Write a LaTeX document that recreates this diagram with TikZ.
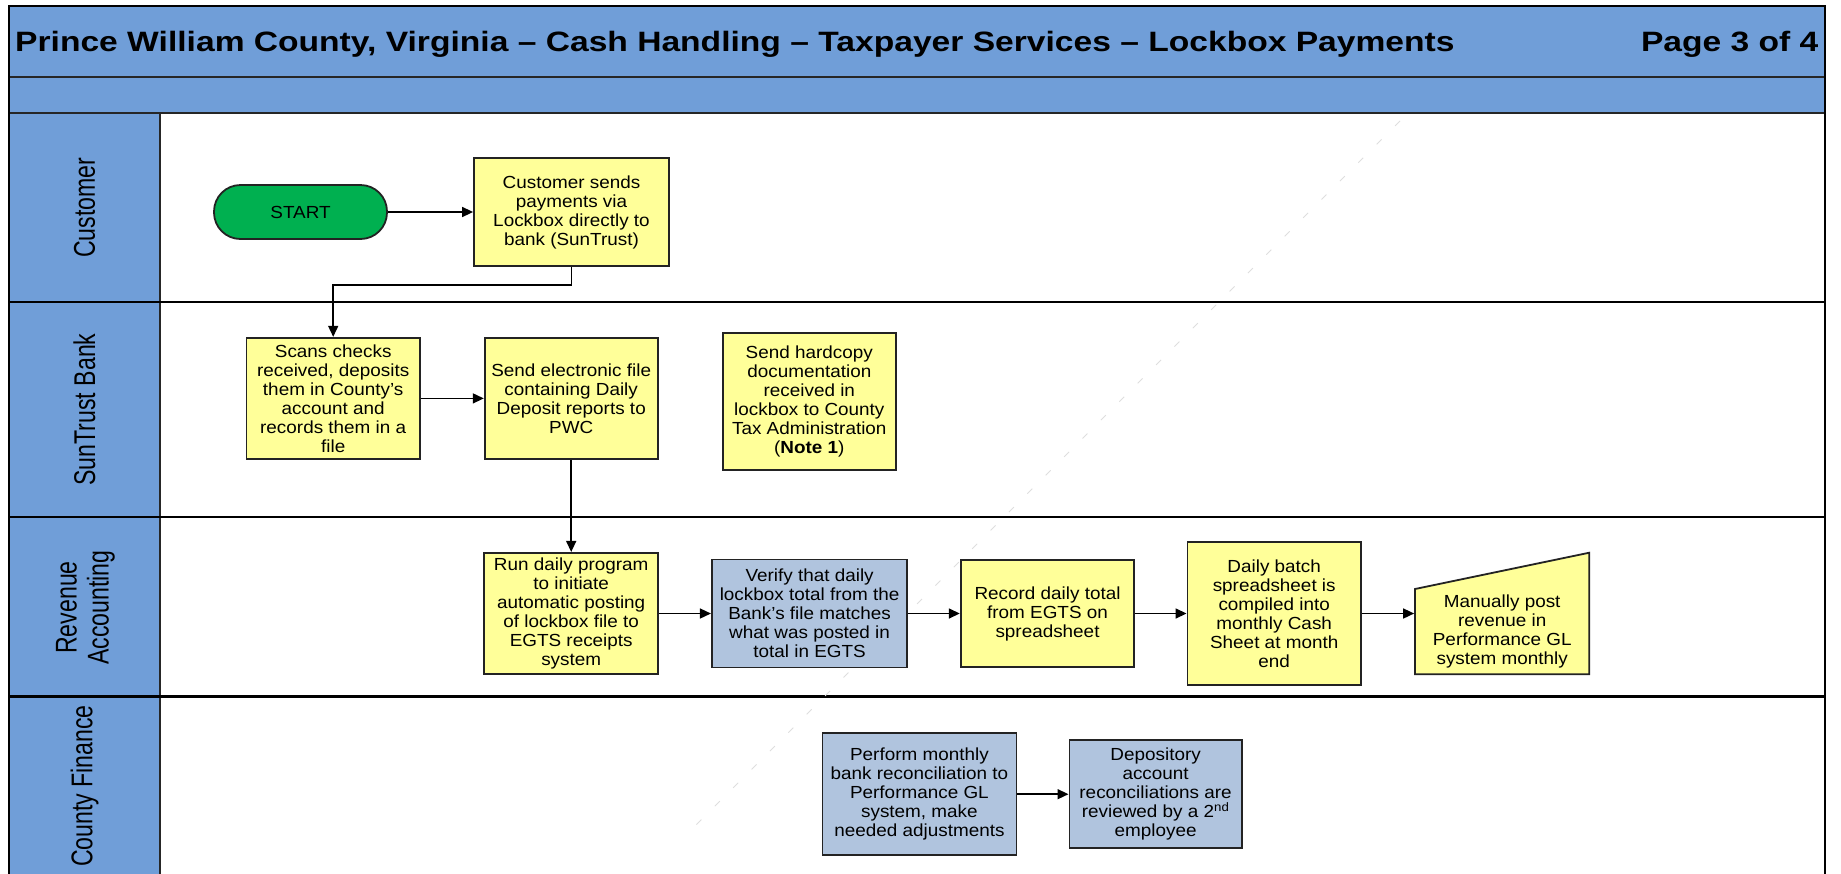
\documentclass[tikz,border=0pt]{standalone}
\usepackage{fontspec}
\setmainfont{Liberation Sans}
\newfontfamily\titlefont[FakeStretch=1.2]{Liberation Sans}
\newfontfamily\boxfont[FakeStretch=1.08]{Liberation Sans}
\newfontfamily\lanefont[FakeStretch=0.77]{Liberation Sans}
\usetikzlibrary{arrows.meta,calc}
\definecolor{hdr}{RGB}{112,158,216}
\definecolor{yel}{RGB}{255,255,153}
\definecolor{bgray}{RGB}{176,196,222}
\definecolor{grn}{RGB}{0,176,80}
\definecolor{edge}{RGB}{35,35,35}
\begin{document}
\begin{tikzpicture}[x=1pt,y=-1pt,
  frameline/.style={line width=2.4pt, draw=black},
  sepline/.style={line width=2pt, draw=black!85},
  boxbase/.style={draw=edge, line width=1.8pt, align=center, inner sep=0pt,
    font=\boxfont\fontsize{17.5}{19}\selectfont},
  ybox/.style={boxbase, fill=yel},
  gbox/.style={boxbase, fill=bgray},
  sz/.style 2 args={minimum width=#1pt, minimum height=#2pt},
  arr/.style={line width=1.5pt, draw=black, -{Triangle[length=11pt,width=10pt]}},
  lanelabel/.style={rotate=90, inner sep=0pt, align=center,
    font=\lanefont\fontsize{30}{32}\selectfont},
  wm/.style={draw=black!13, line width=0.8pt, dash pattern=on 7pt off 19pt},
]
\useasboundingbox (0,0) rectangle (1841,873);
\clip (0,0) rectangle (1841,873);
\fill[white] (0,0) rectangle (1841,873);
% header bands and lane label column
\fill[hdr] (9,6) rectangle (1825,113);
\fill[hdr] (9,113) rectangle (160,890);
% separators
\draw[sepline] (9,77) -- (1825,77);
\draw[sepline] (9,113) -- (1825,113);
\draw[sepline] (160,113) -- (160,890);
\draw[frameline] (9,302) -- (1825,302);
\draw[frameline] (9,517) -- (1825,517);
\draw[frameline] (9,696.5) -- (1825,696.5);
\draw[frameline] (9,6) rectangle (1825,890);
% faint watermark line
\draw[wm] (1400,121) -- (686,835);
% title
\node[anchor=base west, inner sep=0pt, font=\titlefont\bfseries\fontsize{28}{30}\selectfont] (title) at (15,51.7)
  {Prince William County, Virginia – Cash Handling – Taxpayer Services – Lockbox Payments};
\node[anchor=base east, inner sep=0pt, font=\titlefont\bfseries\fontsize{28}{30}\selectfont] (page) at (1818.6,51.7)
  {Page 3 of 4};
% lane labels
\node[lanelabel] (lcust) at (84.5,207.8) {Customer};
\node[lanelabel] (lbank) at (84.5,409.5) {SunTrust Bank};
\node[lanelabel] (lrev) at (85.5,607.5) {Revenue\\Accounting};
\node[lanelabel] (lfin) at (84.5,786) {County Finance};
% Customer lane
\node[boxbase, fill=grn, rounded corners=26.5pt, sz={173}{54}] (start) at (300.5,212) {START};
\node[ybox, sz={195}{108}] (cust) at (571.5,212)
  {Customer sends\\payments via\\Lockbox directly to\\bank (SunTrust)};
% SunTrust lane
\node[ybox, sz={173.6}{121.3}] (scan) at (333.2,398.4)
  {Scans checks\\received, deposits\\them in County’s\\account and\\records them in a\\file};
\node[ybox, sz={173}{121.3}] (sendfile) at (571.2,398.4)
  {Send electronic file\\containing Daily\\Deposit reports to\\PWC};
\node[ybox, sz={173}{137.3}] (hard) at (809.3,401.7)
  {Send hardcopy\\documentation\\received in\\lockbox to County\\Tax Administration\\(\textbf{Note 1})};
% Revenue Accounting lane
\node[ybox, sz={174}{121.3}] (run) at (571.2,613.5)
  {Run daily program\\to initiate\\automatic posting\\of lockbox file to\\EGTS receipts\\system};
\node[gbox, sz={195.5}{108}] (verify) at (809.6,613.5)
  {Verify that daily\\lockbox total from the\\Bank’s file matches\\what was posted in\\total in EGTS};
\node[ybox, sz={173.6}{107.7}] (record) at (1047.5,613.5)
  {Record daily total\\from EGTS on\\spreadsheet};
\node[ybox, sz={173.5}{143.6}] (batch) at (1274.2,613.5)
  {Daily batch\\spreadsheet is\\compiled into\\monthly Cash\\Sheet at month\\end};
\filldraw[draw=edge, line width=1.8pt, fill=yel, line join=miter]
  (1415,674.3) -- (1589.3,674.3) -- (1589.3,552.7) -- (1415,589) -- cycle;
\node[boxbase, draw=none, fill=none, sz={174.3}{85.3}] (manual) at (1502.2,631.7)
  {Manually post\\revenue in\\Performance GL\\system monthly};
% County Finance lane
\node[gbox, sz={194}{121.7}] (perform) at (919.4,794.2)
  {Perform monthly\\bank reconciliation to\\Performance GL\\system, make\\needed adjustments};
\node[gbox, sz={172.4}{108}] (depos) at (1155.6,794.2)
  {Depository\\account\\reconciliations are\\reviewed by a 2\textsuperscript{nd}\\employee};
% connectors
\draw[arr] (start.east) -- (cust.west);
\draw[arr] (cust.south) -- ++(0,18) -| (scan.north);
\draw[arr] (scan.east) -- (sendfile.west);
\draw[arr] (sendfile.south) -- (run.north);
\draw[arr] (run.east) -- (verify.west);
\draw[arr] (verify.east) -- (record.west);
\draw[arr] (record.east) -- (batch.west);
\draw[arr] (batch.east) -- (batch.east -| manual.west);
\draw[arr] (perform.east) -- (depos.west);
\end{tikzpicture}
\end{document}
